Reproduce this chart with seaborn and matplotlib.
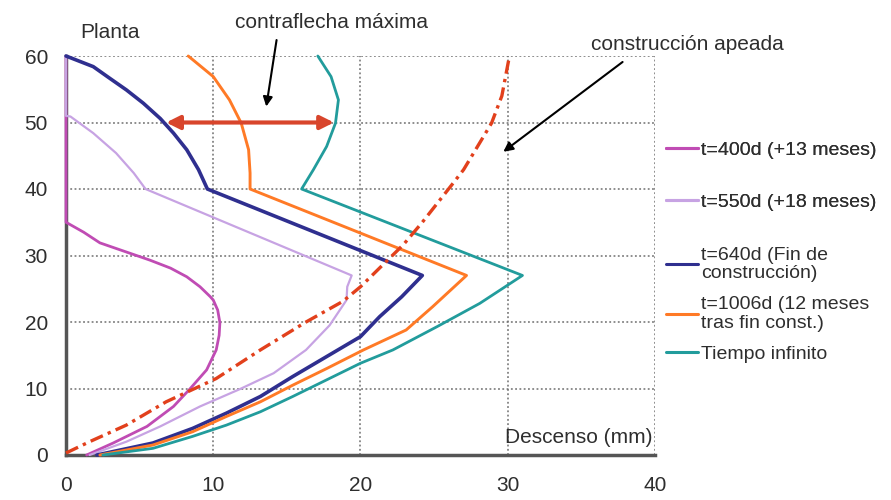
import numpy as np
import pandas as pd
import matplotlib
matplotlib.use("Agg")
import matplotlib.pyplot as plt
from matplotlib.lines import Line2D
import seaborn as sns

# ---------------- data ----------------
series_labels = [
    "t=400d (+13 meses)",
    "t=550d (+18 meses)",
    "t=640d (Fin de\nconstrucción)",
    "t=1006d (12 meses\ntras fin const.)",
    "Tiempo infinito",
]
series_colors = ["#c04cb4", "#c7a3e3", "#2f2f8f", "#ff7a26", "#229c9c"]
series_widths = [2.0, 1.6, 2.6, 2.1, 2.0]

# descenso (mm) vs planta
x_400 = [0, 0, 1.2, 2.3, 4.0, 5.7, 7.1, 8.2, 9.1, 9.8, 10.0, 10.3, 10.45, 10.4,
         10.2, 9.55, 8.4, 7.3, 5.5, 3.2, 1.4]
y_400 = [60, 35, 33.5, 31.9, 30.6, 29.3, 28.1, 26.8, 25.3, 23.8, 23.3, 21.8, 19.9, 18.0,
         15.8, 12.8, 9.9, 7.3, 4.3, 1.8, 0]

x_550 = [0, 0, 0.3, 1.85, 3.4, 4.6, 5.4, 19.4, 19.1, 19.05, 17.9, 16.3, 14.1, 11.8,
         9.1, 6.4, 4.1, 1.6]
y_550 = [60, 51, 50.9, 48.4, 45.4, 42.4, 40, 27, 25.3, 23.3, 19.5, 15.8, 12.3, 9.9,
         7.3, 4.3, 2.0, 0]

x_640 = [0, 1.85, 3.0, 4.1, 5.25, 6.4, 7.3, 8.2, 9.0, 9.6, 24.2, 22.8, 21.3, 20.0,
         17.7, 15.4, 13.2, 10.9, 8.6, 5.9, 2.1]
y_640 = [60, 58.4, 56.6, 54.9, 52.9, 50.6, 48.4, 45.9, 42.9, 40, 27, 23.8, 20.8, 17.8,
         14.8, 11.8, 8.8, 6.3, 4.0, 1.8, 0]

x_1006 = [8.3, 10.0, 11.1, 11.9, 12.4, 12.5, 12.5, 27.2, 24.9, 23.1, 20.2, 17.7, 15.4,
          13.2, 10.9, 8.6, 5.9, 2.3]
y_1006 = [60, 56.9, 53.4, 49.9, 45.9, 42.4, 40, 27, 22.3, 18.8, 15.8, 13.0, 10.5,
          8.0, 5.8, 3.5, 1.5, 0]

x_inf = [17.1, 18.0, 18.5, 18.3, 17.7, 16.8, 16.0, 31.0, 28.1, 25.2, 22.2, 20.0, 17.7,
         15.4, 13.2, 10.9, 8.6, 5.9, 2.5]
y_inf = [60, 56.9, 53.4, 49.9, 46.4, 42.9, 40, 27, 22.8, 19.3, 15.8, 13.8, 11.3,
         8.8, 6.5, 4.5, 2.8, 1.0, 0]

x_apeada = [0, 1.6, 4.1, 6.8, 10.2, 13.2, 16.3, 18.8, 20.0, 22.9, 24.2, 26.3, 27.0,
            28.9, 29.6, 30.1]
y_apeada = [0.3, 2.0, 4.5, 8.0, 11.5, 15.8, 20.0, 23.1, 25.3, 31.6, 35.0, 40.9, 42.9,
            49.9, 54.0, 59.8]

series_x = [x_400, x_550, x_640, x_1006, x_inf]
series_y = [y_400, y_550, y_640, y_1006, y_inf]

x_ticks = [0, 10, 20, 30, 40]
y_ticks = [0, 10, 20, 30, 40, 50, 60]

frames = []
for lab, xs, ys in zip(series_labels, series_x, series_y):
    frames.append(pd.DataFrame({"descenso": xs, "planta": ys, "serie": lab}))
df = pd.concat(frames, ignore_index=True)
df_apeada = pd.DataFrame({"descenso": x_apeada, "planta": y_apeada})

# ---------------- style ----------------
sns.set_style("white")
plt.rcParams["font.family"] = ["Liberation Sans", "DejaVu Sans"]
text_color = "#2e2e2e"

fig = plt.figure(figsize=(8.91, 5.0), dpi=100)
ax = fig.add_axes([0.0741, 0.09, 0.661, 0.798])

for lab, col, lw in zip(series_labels, series_colors, series_widths):
    sub = df[df["serie"] == lab]
    sns.lineplot(data=sub, x="descenso", y="planta", sort=False, estimator=None,
                 color=col, linewidth=lw, ax=ax, legend=False, clip_on=False,
                 zorder=3)

sns.lineplot(data=df_apeada, x="descenso", y="planta", sort=False, estimator=None,
             color="#e2401c", linewidth=2.4, linestyle=(0, (4, 1.6, 1, 1.6)),
             ax=ax, legend=False, clip_on=False, zorder=3)

ax.set_xlim(0, 40)
ax.set_ylim(0, 60)
ax.set_xticks(x_ticks)
ax.set_yticks(y_ticks)
ax.set_xlabel("")
ax.set_ylabel("")
ax.grid(True, linestyle=(0, (1.2, 1.6)), color="#6f6f6f", linewidth=1.1)
ax.set_axisbelow(True)
for s in ["top", "right"]:
    ax.spines[s].set_visible(False)
for s in ["left", "bottom"]:
    ax.spines[s].set_color("#555555")
    ax.spines[s].set_linewidth(2.5)
ax.tick_params(axis="both", direction="out", length=5, width=1.5, color="#555555",
               labelsize=15, labelcolor=text_color)
ax.tick_params(axis="x", pad=10)
ax.tick_params(axis="y", pad=8)

# texts
fig.text(0.123, 0.934, "Planta", ha="center", va="center", fontsize=15, color=text_color)
ax.text(39.8, 2.7, "Descenso (mm)", ha="right", va="center", fontsize=15, color=text_color)

# red double arrow (contraflecha)
ax.annotate("", xy=(6.8, 50), xytext=(18.2, 50),
            arrowprops=dict(arrowstyle="<|-|>", color="#d8452c", lw=3,
                            mutation_scale=20, shrinkA=0, shrinkB=0))

ax.text(18.0, 65.1, "contraflecha máxima", ha="center", va="center",
        fontsize=15, color=text_color, clip_on=False)
ax.annotate("", xy=(13.6, 52.4), xytext=(14.3, 62.4), annotation_clip=False,
            arrowprops=dict(arrowstyle="-|>", color="black", lw=1.5,
                            mutation_scale=14, shrinkA=0, shrinkB=0))

ax.text(42.2, 61.7, "construcción apeada", ha="center", va="center",
        fontsize=15, color=text_color, clip_on=False)
ax.annotate("", xy=(29.7, 45.6), xytext=(37.8, 59.1), annotation_clip=False,
            arrowprops=dict(arrowstyle="-|>", color="black", lw=1.5,
                            mutation_scale=14, shrinkA=0, shrinkB=0))

# legend (two blocks to mimic uneven spacing)
handles = [Line2D([], [], color=c, lw=2.2) for c in series_colors]
legA = fig.legend(handles[:2], series_labels[:2], loc="upper left",
                  bbox_to_anchor=(0.748, 0.717), frameon=False, fontsize=14,
                  handlelength=1.6, handletextpad=0.2, labelspacing=1.75,
                  borderpad=0, borderaxespad=0, labelcolor=text_color)
legB = fig.legend(handles[2:], series_labels[2:], loc="upper left",
                  bbox_to_anchor=(0.748, 0.506), frameon=False, fontsize=14,
                  handlelength=1.6, handletextpad=0.2, labelspacing=0.72,
                  borderpad=0, borderaxespad=0, labelcolor=text_color)
for t in legB.get_texts():
    t.set_linespacing(1.1)
fig.add_artist(legA)

fig.savefig("out.png", dpi=100)
